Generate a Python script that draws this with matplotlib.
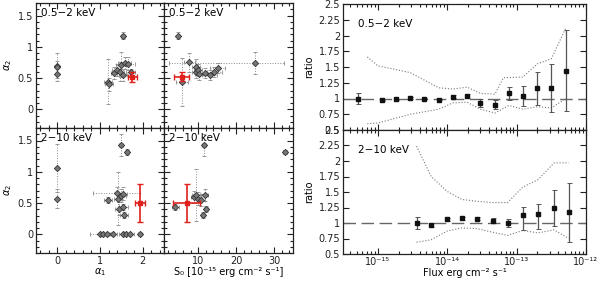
import numpy as np
import matplotlib
matplotlib.use("Agg")
import matplotlib.pyplot as plt
from matplotlib.ticker import MultipleLocator, FixedLocator, LogLocator, NullFormatter, FuncFormatter

# ---------------- data ----------------
# 0.5-2 keV : alpha1 vs alpha2
a1_soft = [0.0, 0.0, 0.0, 1.19, 1.21, 1.33, 1.39, 1.47, 1.50, 1.54, 1.54, 1.58, 1.66, 1.72]
a2_soft = [0.70, 0.67, 0.56, 0.44, 0.40, 0.58, 0.63, 0.60, 0.71, 1.18, 0.55, 0.74, 0.73, 0.60]
a1_soft_err = [0.0, 0.0, 0.0, 0.10, 0.10, 0.08, 0.10, 0.10, 0.12, 0.05, 0.10, 0.15, 0.15, 0.10]
a2_soft_err = [0.20, 0.10, 0.10, 0.36, 0.10, 0.10, 0.10, 0.15, 0.20, 0.05, 0.10, 0.10, 0.10, 0.05]
a1_soft_red, a2_soft_red, a1_soft_red_err, a2_soft_red_err = 1.76, 0.51, 0.10, 0.08

# 0.5-2 keV : S0 vs alpha2
s0_soft = [4.8, 5.7, 7.7, 9.5, 9.5, 10.0, 10.2, 11.7, 13.0, 14.3, 15.2, 25.0]
a2_soft_s = [1.18, 0.44, 0.75, 0.68, 0.60, 0.63, 0.57, 0.58, 0.55, 0.60, 0.66, 0.74]
s0_soft_err_lo = [0.5, 1.5, 1.5, 1.0, 1.0, 1.0, 1.0, 2.0, 2.0, 2.0, 2.0, 22.6]
s0_soft_err_hi = [0.5, 1.5, 1.5, 1.0, 1.0, 1.0, 1.0, 2.0, 2.0, 2.0, 2.0, 7.5]
a2_soft_s_err = [0.05, 0.38, 0.15, 0.12, 0.10, 0.10, 0.10, 0.08, 0.08, 0.08, 0.08, 0.18]
s0_soft_red, a2_soft_s_red, s0_soft_red_err, a2_soft_s_red_err = 5.7, 0.52, 2.0, 0.07

# 2-10 keV : alpha1 vs alpha2
a1_hard = [0.0, 0.0, 1.49, 1.64, 1.19, 1.39, 1.42, 1.45, 1.50, 1.53, 1.55, 1.56,
           1.00, 1.07, 1.16, 1.31, 1.54, 1.62, 1.70, 1.93]
a2_hard = [1.06, 0.57, 1.43, 1.32, 0.55, 0.66, 0.57, 0.41, 0.62, 0.65, 0.44, 0.31,
           0.0, 0.0, 0.0, 0.0, 0.0, 0.0, 0.0, 0.0]
a1_hard_err = [0.0, 0.0, 0.05, 0.05, 0.10, 0.55, 0.10, 0.10, 0.10, 0.10, 0.10, 0.10,
               0.23, 0.10, 0.10, 0.10, 0.10, 0.10, 0.10, 0.05]
a2_hard_err = [0.38, 0.15, 0.17, 0.05, 0.05, 0.10, 0.42, 0.10, 0.10, 0.10, 0.05, 0.05,
               0.0, 0.0, 0.0, 0.0, 0.0, 0.0, 0.0, 0.0]
a1_hard_red, a2_hard_red, a1_hard_red_err, a2_hard_red_err = 1.93, 0.50, 0.12, 0.31

# 2-10 keV : S0 vs alpha2
s0_hard = [4.0, 9.0, 9.5, 10.0, 10.8, 11.5, 11.7, 12.1, 11.2, 32.9]
a2_hard_s = [0.44, 0.60, 0.63, 0.57, 0.55, 1.43, 0.63, 0.41, 0.31, 1.32]
s0_hard_err = [1.0, 1.0, 1.0, 1.0, 1.0, 0.5, 1.0, 0.5, 0.5, 0.5]
a2_hard_s_err = [0.05, 0.10, 0.42, 0.10, 0.10, 0.17, 0.10, 0.05, 0.05, 0.03]
s0_hard_red, a2_hard_s_red, s0_hard_red_err, a2_hard_s_red_err = 7.0, 0.50, 3.5, 0.31

# ratio vs flux, 0.5-2 keV
logf_soft = [-15.28, -14.94, -14.74, -14.53, -14.33, -14.12, -13.92, -13.71, -13.52,
             -13.31, -13.11, -12.91, -12.70, -12.50, -12.29]
ratio_soft = [1.00, 0.97, 0.99, 1.01, 1.00, 0.98, 1.03, 1.04, 0.93, 0.90, 1.08, 1.04, 1.16, 1.16, 1.44]
ratio_soft_lo = [0.08, 0.01, 0.01, 0.01, 0.01, 0.01, 0.02, 0.03, 0.06, 0.07, 0.11, 0.16, 0.27, 0.38, 0.64]
ratio_soft_hi = [0.08, 0.01, 0.01, 0.01, 0.01, 0.01, 0.02, 0.03, 0.06, 0.07, 0.11, 0.16, 0.26, 0.38, 0.64]
env_soft_logf = [-15.15, -15.0, -14.53, -14.12, -13.92, -13.71, -13.52, -13.31, -13.19,
                 -12.91, -12.70, -12.50, -12.29]
env_soft_up = [1.66, 1.52, 1.41, 1.17, 1.15, 1.18, 1.08, 1.07, 1.33, 1.34, 1.55, 1.63, 2.12]
env_soft_lo_logf = [-15.15, -15.0, -14.53, -14.12, -13.92, -13.71, -13.52, -13.31, -13.11,
                    -12.91, -12.70, -12.50, -12.29]
env_soft_lo = [0.60, 0.61, 0.75, 0.83, 0.93, 0.94, 0.83, 0.77, 0.89, 0.83, 0.87, 0.85, 1.0]

# ratio vs flux, 2-10 keV
logf_hard = [-14.44, -14.23, -14.0, -13.79, -13.57, -13.34, -13.13, -12.91, -12.69, -12.46, -12.25]
ratio_hard = [1.00, 0.97, 1.06, 1.075, 1.07, 1.04, 1.00, 1.13, 1.14, 1.25, 1.17]
ratio_hard_lo = [0.09, 0.03, 0.02, 0.02, 0.02, 0.04, 0.06, 0.24, 0.23, 0.30, 0.48]
ratio_hard_hi = [0.09, 0.03, 0.02, 0.02, 0.02, 0.04, 0.06, 0.13, 0.17, 0.29, 0.47]
env_hard_up = [2.24, 1.75, 1.51, 1.38, 1.35, 1.33, 1.33, 1.58, 1.70, 1.97, 1.97]
env_hard_lo = [0.69, 0.73, 0.87, 0.92, 0.91, 0.85, 0.80, 0.88, 0.84, 0.89, 0.75]

# ---------------- figure ----------------
plt.rcParams['font.family'] = ['DejaVu Sans']
plt.rcParams['font.size'] = 7
fig = plt.figure(figsize=(6.0, 2.82), dpi=100)

W, H = 600.0, 282.0
def ax_at(x0, y0, x1, y1):
    return fig.add_axes([x0 / W, 1 - y1 / H, (x1 - x0) / W, (y1 - y0) / H])

ytop, ymid, ybot = 3, 128, 253
ax_tl = ax_at(36, ytop, 164, ymid)
ax_tm = ax_at(164, ytop, 293, ymid)
ax_bl = ax_at(36, ymid, 164, ybot)
ax_bm = ax_at(164, ymid, 293, ybot)
ax_tr = ax_at(343, 4, 586, 130)
ax_br = ax_at(343, 130, 586, 254)

ebgrey = '#8a8a8a'
SUP = str.maketrans('-0123456789', '\u207b\u2070\u00b9\u00b2\u00b3\u2074\u2075\u2076\u2077\u2078\u2079')

def style(ax):
    ax.tick_params(which='both', direction='in', top=True, right=True, labelsize=7, width=0.8, colors='#222222')
    ax.tick_params(which='major', length=4)
    ax.tick_params(which='minor', length=2)
    ax.tick_params(axis='x', pad=2)
    ax.tick_params(axis='y', pad=2)
    for s in ax.spines.values():
        s.set_linewidth(0.9)
        s.set_color('#222222')

def scatter_panel(ax, x, y, xe, ye, rx, ry, rxe, rye):
    eb = ax.errorbar(x, y, xerr=xe, yerr=ye, fmt='none', ecolor=ebgrey, elinewidth=0.7,
                     capsize=1.5, capthick=0.6)
    for c in eb[2]:
        c.set_linestyle(':')
    ax.plot(x, y, 'D', ms=3.2, mfc='#777777', mec='#333333', mew=0.6, ls='none')
    ax.errorbar([rx], [ry], xerr=[rxe], yerr=[rye], fmt='s', ms=3, color='#e0201b',
                ecolor='#e0201b', elinewidth=1.2, capsize=2.2, capthick=1.0)

scatter_panel(ax_tl, a1_soft, a2_soft, a1_soft_err, a2_soft_err,
              a1_soft_red, a2_soft_red, a1_soft_red_err, a2_soft_red_err)
scatter_panel(ax_tm, s0_soft, a2_soft_s, [s0_soft_err_lo, s0_soft_err_hi], a2_soft_s_err,
              s0_soft_red, a2_soft_s_red, s0_soft_red_err, a2_soft_s_red_err)
scatter_panel(ax_bl, a1_hard, a2_hard, a1_hard_err, a2_hard_err,
              a1_hard_red, a2_hard_red, a1_hard_red_err, a2_hard_red_err)
scatter_panel(ax_bm, s0_hard, a2_hard_s, s0_hard_err, a2_hard_s_err,
              s0_hard_red, a2_hard_s_red, s0_hard_red_err, a2_hard_s_red_err)

for ax in (ax_tl, ax_bl):
    ax.set_xlim(-0.5, 2.5)
    ax.xaxis.set_major_locator(FixedLocator([0, 1, 2]))
    ax.xaxis.set_minor_locator(MultipleLocator(0.2))
for ax in (ax_tm, ax_bm):
    ax.set_xlim(1, 35)
    ax.xaxis.set_major_locator(FixedLocator([10, 20, 30]))
    ax.xaxis.set_minor_locator(MultipleLocator(2))
for ax in (ax_tl, ax_bl, ax_tm, ax_bm):
    ax.set_ylim(-0.3, 1.7)
    ax.yaxis.set_major_locator(FixedLocator([0, 0.5, 1, 1.5]))
    ax.yaxis.set_minor_locator(MultipleLocator(0.1))
    ax.yaxis.set_major_formatter(FuncFormatter(lambda v, p: '%g' % v))
    style(ax)
for ax in (ax_tm, ax_bm):
    ax.tick_params(labelleft=False)
for ax in (ax_tl, ax_tm):
    ax.tick_params(labelbottom=False)

ax_tl.set_ylabel(r'$\alpha_2$', labelpad=3)
ax_bl.set_ylabel(r'$\alpha_2$', labelpad=3)
ax_bl.set_xlabel(r'$\alpha_1$', labelpad=0)
ax_bm.set_xlabel('S\u2080 [10\u207b\u00b9\u2075 erg cm\u207b\u00b2 s\u207b\u00b9]', labelpad=1)

for ax, t in ((ax_tl, '0.5\u22122 keV'), (ax_tm, '0.5\u22122 keV'),
              (ax_bl, '2\u221210 keV'), (ax_bm, '2\u221210 keV')):
    ax.text(0.04, 0.96, t, transform=ax.transAxes, ha='left', va='top', fontsize=7.5)

# right panels
def ratio_panel(ax, logf, r, lo, hi, ex_up, up, ex_lo, low, label):
    f = 10.0 ** np.array(logf)
    ax.axhline(1.0, color='#666666', lw=1.0, dashes=(9, 4))
    ax.plot(10.0 ** np.array(ex_up), up, ':', color='#777777', lw=0.8)
    ax.plot(10.0 ** np.array(ex_lo), low, ':', color='#777777', lw=0.8)
    ax.errorbar(f, r, yerr=[lo, hi], fmt='s', ms=2.6, color='#111111', ecolor='#555555',
                elinewidth=0.9, capsize=1.8, capthick=0.7)
    ax.set_xscale('log')
    ax.set_xlim(10 ** -15.5, 1e-12)
    ax.set_ylim(0.5, 2.5)
    ax.yaxis.set_major_locator(MultipleLocator(0.25))
    ax.yaxis.set_major_formatter(FuncFormatter(lambda v, p: '%g' % v))
    ax.xaxis.set_major_locator(FixedLocator([1e-15, 1e-14, 1e-13, 1e-12]))
    ax.xaxis.set_minor_locator(LogLocator(base=10, subs=np.arange(2, 10), numticks=20))
    ax.xaxis.set_minor_formatter(NullFormatter())
    ax.xaxis.set_major_formatter(FuncFormatter(
        lambda v, p: '10' + str(int(round(np.log10(v)))).translate(SUP)))
    style(ax)
    ax.set_ylabel('ratio', labelpad=3)
    ax.text(0.06, 0.88, label, transform=ax.transAxes, ha='left', va='top', fontsize=7.5)

ratio_panel(ax_tr, logf_soft, ratio_soft, ratio_soft_lo, ratio_soft_hi,
            env_soft_logf, env_soft_up, env_soft_lo_logf, env_soft_lo, '0.5\u22122 keV')
ratio_panel(ax_br, logf_hard, ratio_hard, ratio_hard_lo, ratio_hard_hi,
            logf_hard, env_hard_up, logf_hard, env_hard_lo, '2\u221210 keV')
ax_tr.tick_params(labelbottom=False)
ax_br.tick_params(axis='x', pad=2)
ax_br.set_xlabel('Flux erg cm\u207b\u00b2 s\u207b\u00b9', labelpad=1)

fig.savefig('out.png', dpi=100)
